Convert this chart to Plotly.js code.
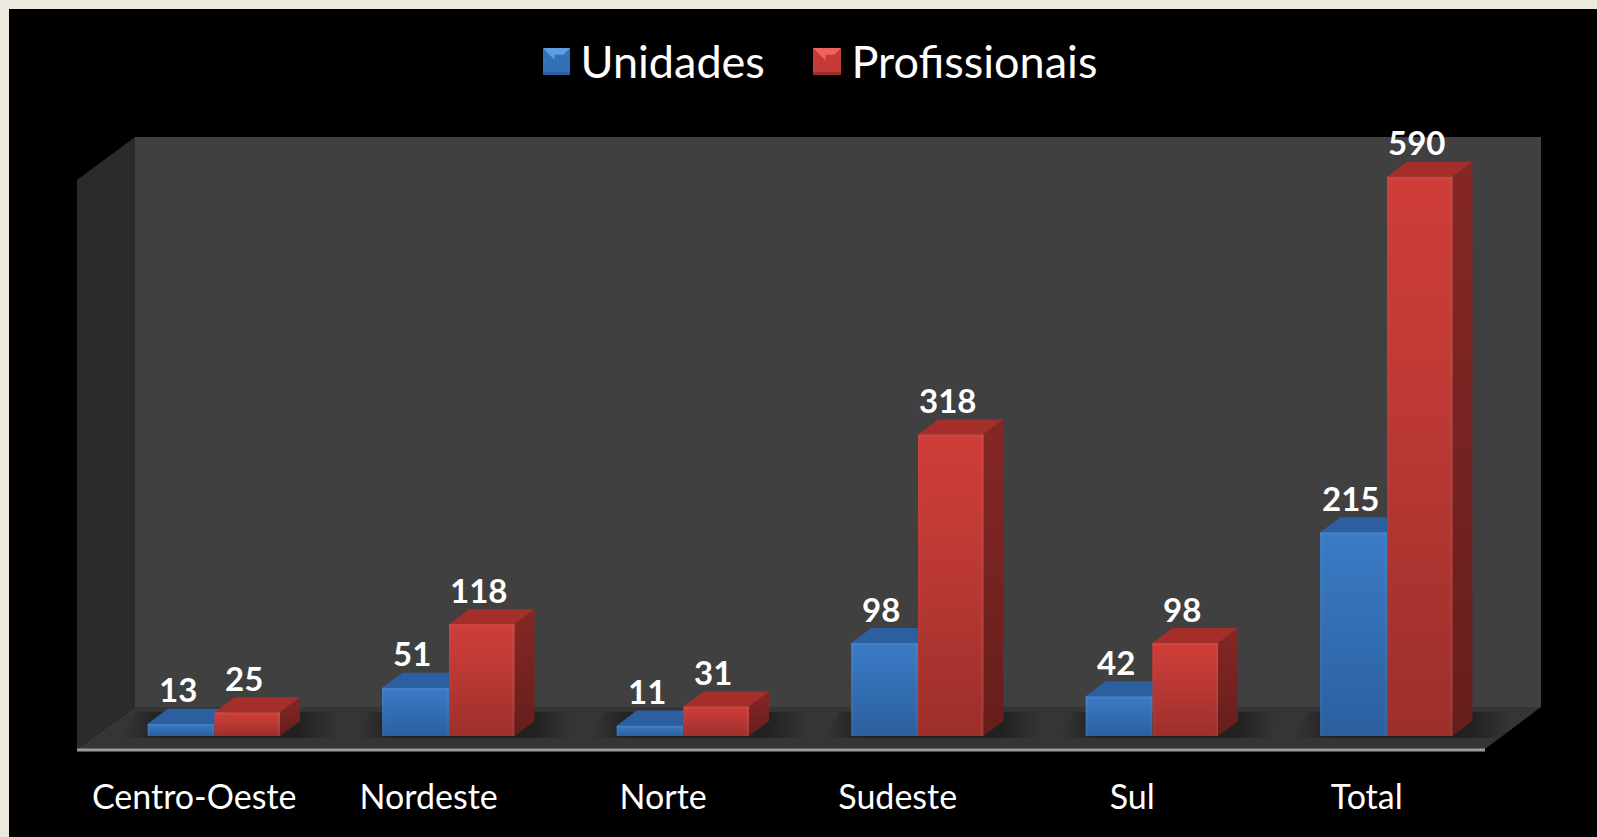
<!DOCTYPE html>
<html><head><meta charset="utf-8">
<script src="https://cdn.plot.ly/plotly-3.0.1.min.js"></script>
<style>html,body{margin:0;padding:0;background:#ECE9DF}#c{width:1597px;height:837px}</style></head>
<body><div id="c"></div>
<script>
const categories = ['Centro-Oeste','Nordeste','Norte','Sudeste','Sul','Total'];
const unidades = [13,51,11,98,42,215];
const profissionais = [25,118,31,318,98,590];

const W=1597,H=837, ZERO=736, PXV=0.948, CAT0=194.2, CATW=234.5, FLOORY=749, PLOTB=752;
const dxv=p=>p/CATW, dyv=p=>p/PXV;
const X=p=>(p-CAT0)/CATW, Y=p=>(ZERO-p)/PXV;
const BW=dxv(65.5), BWB=dxv(66.8), SHIFT=dxv(20.3), DX=dxv(20), DY=dyv(15);
const PY=p=>1-p/PLOTB;

function poly(pts,extra){return Object.assign({type:'scatter',mode:'lines',x:pts.map(p=>p[0]).concat(pts[0][0]),y:pts.map(p=>p[1]).concat(pts[0][1]),fill:'toself',line:{width:0},hoverinfo:'skip',showlegend:false},extra);}
function grad(lo,mid,hi){return {fillcolor:lo,fillgradient:{type:'vertical',colorscale:[[0,lo],[0.6,mid],[1,hi]]}};}
const edge=(l,v,c)=>poly([[l,0],[l+dxv(2.5),0],[l+dxv(2.5),v],[l,v]],{fillcolor:c});
const cap=(l,r,v,c)=>poly([[l,v-dyv(2.5)],[r,v-dyv(2.5)],[r,v],[l,v]],{fillcolor:c});

const traces=[];
traces.push({type:'bar',name:'Unidades',legend:'legend',x:categories.map((c,i)=>i),y:unidades,width:BWB,offset:SHIFT-BWB,marker:{color:'#3470B6',line:{width:0}},hoverinfo:'skip'});
traces.push({type:'bar',name:'Profissionais',legend:'legend2',x:categories.map((c,i)=>i),y:profissionais,width:BW,offset:SHIFT,marker:{color:'#C43A36',line:{width:0}},hoverinfo:'skip'});

categories.forEach((c,i)=>{
  const l=i+SHIFT-BWB-dxv(26), r=i+SHIFT+BW+dxv(54), b=Y(738), t=Y(712);
  traces.push(poly([[l,b],[r,b],[r+dxv(4),t],[l+dxv(14),t]],{fillcolor:'rgba(30,30,30,0.8)',fillgradient:{type:'horizontal',colorscale:[[0,'rgba(30,30,30,0)'],[0.18,'rgba(30,30,30,0.85)'],[0.82,'rgba(30,30,30,0.85)'],[1,'rgba(30,30,30,0)']]}}));
});
categories.forEach((c,i)=>{
  const v=unidades[i], l=i+SHIFT-BWB, r=i+SHIFT;
  traces.push(poly([[l,v],[r,v],[r+DX,v+DY],[l+DX,v+DY]],{fillcolor:'#2C5F9F'}));
  traces.push(poly([[l,0],[r,0],[r,v],[l,v]],grad('#2B5F9F','#3470B6','#3B7BC6')));
  traces.push(edge(l,v,'rgba(255,255,255,0.04)'),edge(r-dxv(2.5),v,'rgba(255,255,255,0.04)'),cap(l,r,v,'rgba(255,255,255,0.04)'));
});
categories.forEach((c,i)=>{
  const v=profissionais[i], l=i+SHIFT, r=l+BW;
  traces.push(poly([[l,v],[r,v],[r+DX,v+DY],[l+DX,v+DY]],{fillcolor:'#A32E2A'}));
  traces.push(poly([[r,0],[r+DX,DY],[r+DX,v+DY],[r,v]],grad('#651E1B','#792422','#852724')));
  traces.push(poly([[l,0],[r,0],[r,v],[l,v]],grad('#9C2F2B','#BD3935','#CF3D39')));
  traces.push(edge(l,v,'rgba(255,255,255,0.02)'),edge(r-dxv(2.5),v,'rgba(255,255,255,0.05)'),cap(l,r,v,'rgba(255,255,255,0.04)'));
});

const rect=(x0,y0,x1,y1,c)=>({type:'rect',xref:'paper',yref:'paper',x0:x0/W,x1:x1/W,y0:PY(y1),y1:PY(y0),fillcolor:c,line:{width:0},layer:'below'});
const tri=(pts,c)=>({type:'path',xref:'paper',yref:'paper',path:'M'+pts.map(p=>(p[0]/W)+','+PY(p[1])).join('L')+'Z',fillcolor:c,line:{width:0},layer:'below'});
const path=(pts,c)=>({type:'path',xref:'x',yref:'y',path:'M'+pts.map(p=>X(p[0])+','+Y(p[1])).join('L')+'Z',fillcolor:c,line:{width:0},layer:'below'});
const shapes=[
  rect(9,9,W,H,'#000000'),
  path([[135,137],[1541,137],[1541,707],[135,707]],'#404040'),
  path([[77,180],[135,137],[135,707],[77,749]],'#2B2B2B'),
  path([[135,707],[1541,707],[1485,749],[77,749]],'#353535'),
  {type:'line',xref:'x',yref:'y',x0:X(77),x1:X(1485),y0:Y(750),y1:Y(750),line:{color:'#9C9C9C',width:3},layer:'below'},
  rect(543,48,570,75,'#3470B6'),
  tri([[543,48],[570,48],[556.5,62]],'#5C9DE6'),
  rect(543,72,570,75,'#2B5F9F'),
  rect(813,48,841,75,'#C43A36'),
  tri([[813,48],[841,48],[827,62]],'#F0625D'),
  rect(813,72,841,75,'#9C2F2B'),
];
const ann=[];
const lab=(i,v,off)=>ann.push({x:i+off,y:v,xref:'x',yref:'y',text:String(v),showarrow:false,yshift:34.5,xanchor:'center',yanchor:'middle',font:{family:'Lato',size:33,color:'#fff',weight:700}});
categories.forEach((c,i)=>{lab(i,unidades[i],SHIFT-BWB/2-dxv(3.5));lab(i,profissionais[i],SHIFT+BW/2-dxv(3));});

const legendBase=(left)=>({orientation:'h',x:left/W,xanchor:'left',y:PY(25),yanchor:'top',bgcolor:'rgba(0,0,0,0)',font:{family:'Lato',size:45,color:'#fff'},itemclick:false,itemdoubleclick:false});

Plotly.newPlot('c',traces,{
  width:W,height:H,margin:{l:0,r:0,t:0,b:H-PLOTB,pad:0},
  paper_bgcolor:'#ECE9DF',plot_bgcolor:'rgba(0,0,0,0)',
  barmode:'overlay',
  xaxis:{type:'linear',range:[X(0),X(W)],tickmode:'array',tickvals:categories.map((c,i)=>i),ticktext:categories,ticks:'outside',ticklen:15,tickcolor:'rgba(0,0,0,0)',showgrid:false,zeroline:false,showline:false,automargin:false,tickfont:{family:'Lato',size:34,color:'#fff'}},
  yaxis:{range:[Y(PLOTB),Y(0)],visible:false,showgrid:false,zeroline:false,automargin:false},
  shapes:shapes,annotations:ann,
  showlegend:true,
  legend:legendBase(540.5),
  legend2:legendBase(811.5)
},{displayModeBar:false,staticPlot:true});
</script></body></html>
